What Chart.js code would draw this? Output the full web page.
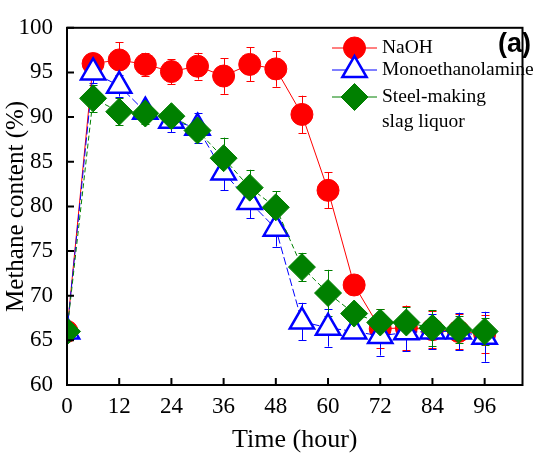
<!DOCTYPE html>
<html><head><meta charset="utf-8">
<script src="https://cdn.jsdelivr.net/npm/chart.js@4/dist/chart.umd.min.js"></script>
<style>html,body{margin:0;padding:0;background:#fff}#wrap{width:539px;height:454px}</style>
</head><body><div id="wrap"><canvas id="c" width="539" height="454"></canvas></div>
<script>
const hours = [0,6,12,18,24,30,36,42,48,54,60,66,72,78,84,90,96];
const xTicks = [0,12,24,36,48,60,72,84,96];
const yTicks = [60,65,70,75,80,85,90,95,100];
const seriesNames = ['NaOH','Monoethanolamine',['Steel-making','slag liquor']];
const naoh    = [66.0,96.0,96.4,95.9,95.1,95.7,94.6,95.9,95.4,90.3,81.8,71.2,66.3,66.4,66.2,66.0,65.7];
const naohErr = [0,0.8,2.0,1.3,1.4,1.5,2.0,1.9,2.0,2.1,2.0,0.5,2.2,2.5,2.1,2.0,2.1];
const mono    = [66.0,95.0,93.5,90.6,89.6,88.8,83.8,80.5,77.5,67.1,66.4,66.0,65.5,65.9,66.0,66.0,65.4];
const monoErr = [0,1.2,1.2,1.0,1.3,1.7,2.0,1.8,2.0,2.1,2.1,0.5,2.2,2.1,2.0,2.1,2.8];
const slag    = [66.0,92.1,90.6,90.4,90.1,88.5,85.4,82.1,79.9,73.2,70.3,68.0,67.0,67.0,66.4,66.2,66.0];
const slagErr = [0,1.5,1.5,1.2,1.0,1.0,2.3,2.0,1.8,1.6,2.6,0.5,1.5,1.7,2.0,1.5,1.5];
const panelLabel = '(a)';
const xTitle = 'Time (hour)';
const yTitle = 'Methane content (%)';

const RED = '#ff0000', BLUE = '#0000ff', GREEN = '#008000';
const SERIF = "'Liberation Serif', 'Times New Roman', serif";

function pts(v){ return hours.map((h,i)=>({x:h,y:v[i]})); }

const errors = [naohErr, monoErr, slagErr];

const errorBarPlugin = {
  id: 'errbars',
  beforeDatasetsDraw(chart){
    const ctx = chart.ctx, ys = chart.scales.y, a = chart.chartArea;
    ctx.save();
    ctx.beginPath(); ctx.rect(a.left,a.top,a.right-a.left,a.bottom-a.top); ctx.clip();
    chart.data.datasets.forEach((ds,di)=>{
      const meta = chart.getDatasetMeta(di);
      const err = errors[di];
      ctx.strokeStyle = ds.borderColor; ctx.lineWidth = 1;
      meta.data.forEach((p,i)=>{
        const e = err[i]; if(!e) return;
        const v = ds.data[i].y;
        const y1 = ys.getPixelForValue(v+e), y2 = ys.getPixelForValue(v-e);
        const x = Math.round(p.x)+0.5;
        ctx.beginPath();
        ctx.moveTo(x,y1); ctx.lineTo(x,y2);
        ctx.moveTo(x-4,Math.round(y1)+0.5); ctx.lineTo(x+4,Math.round(y1)+0.5);
        ctx.moveTo(x-4,Math.round(y2)+0.5); ctx.lineTo(x+4,Math.round(y2)+0.5);
        ctx.stroke();
      });
    });
    ctx.restore();
  }
};

const clipPlugin = {
  id: 'areaclip',
  beforeDatasetsDraw(chart){
    const ctx = chart.ctx, a = chart.chartArea;
    ctx.save();
    ctx.beginPath(); ctx.rect(a.left,a.top,a.right-a.left,a.bottom-a.top); ctx.clip();
  },
  afterDatasetsDraw(chart){ chart.ctx.restore(); }
};

const framePlugin = {
  id: 'frame',
  afterDraw(chart){
    const ctx = chart.ctx, a = chart.chartArea, xs = chart.scales.x, ys = chart.scales.y;
    ctx.save();
    ctx.strokeStyle = '#000'; ctx.lineWidth = 2;
    ctx.strokeRect(a.left, a.top, a.right-a.left, a.bottom-a.top);
    ctx.beginPath();
    xTicks.forEach(t=>{ const x = xs.getPixelForValue(t); ctx.moveTo(x,a.bottom); ctx.lineTo(x,a.bottom-7); });
    yTicks.forEach(t=>{ const y = ys.getPixelForValue(t); ctx.moveTo(a.left,y); ctx.lineTo(a.left+7,y); });
    ctx.stroke();

    // legend
    const rows = [48,70,97];
    const x0 = 332, x1 = 377, xm = 354.5;
    chart.data.datasets.forEach((ds,di)=>{
      const y = rows[di];
      ctx.save();
      ctx.strokeStyle = ds.borderColor; ctx.lineWidth = 1;
      ctx.beginPath(); ctx.moveTo(x0,y); ctx.lineTo(x1,y); ctx.stroke();
      ctx.restore();
      ctx.save();
      ctx.fillStyle = ds.pointBackgroundColor; ctx.strokeStyle = ds.borderColor;
      ctx.lineWidth = ds.pointBorderWidth;
      Chart.helpers.drawPoint(ctx, {pointStyle: ds.pointStyle, radius: ds.pointRadius, rotation: 0, borderWidth: ds.pointBorderWidth}, xm, y);
      ctx.restore();
      ctx.fillStyle = '#000'; ctx.font = '19.5px ' + SERIF; ctx.textBaseline = 'middle'; ctx.textAlign = 'left';
      const name = seriesNames[di];
      if (Array.isArray(name)) name.forEach((s,k)=>ctx.fillText(s, 382, y + k*25));
      else ctx.fillText(name, 382, y);
    });
    ctx.fillStyle = '#000'; ctx.font = "bold 27px 'Liberation Sans', Arial, sans-serif";
    ctx.textAlign = 'right'; ctx.textBaseline = 'middle';
    ctx.fillText(panelLabel, 531, 45);
    ctx.restore();
  }
};

new Chart(document.getElementById('c'), {
  type: 'line',
  data: {
    datasets: [
      {label: 'NaOH', data: pts(naoh), borderColor: RED, backgroundColor: RED, pointBackgroundColor: RED,
       pointBorderColor: RED, pointStyle: 'circle', pointRadius: 11, pointBorderWidth: 1, borderWidth: 1, order: 3, clip: 0},
      {label: 'Monoethanolamine', data: pts(mono), borderColor: BLUE, backgroundColor: '#fff', pointBackgroundColor: '#fff',
       pointBorderColor: BLUE, pointStyle: 'triangle', pointRadius: 14, pointBorderWidth: 2.5, borderWidth: 1, borderDash: [8,3], order: 2, clip: 0},
      {label: 'Steel-making slag liquor', data: pts(slag), borderColor: GREEN, backgroundColor: GREEN, pointBackgroundColor: GREEN,
       pointBorderColor: GREEN, pointStyle: 'rectRot', pointRadius: 13.5, pointBorderWidth: 1, borderWidth: 1, borderDash: [5,3], order: 1, clip: 0}
    ]
  },
  options: {
    responsive: false, animation: false, devicePixelRatio: 1,
    layout: {padding: {top: 16, right: 2, left: 0, bottom: 0}},
    plugins: {legend: {display: false}, tooltip: {enabled: false}},
    elements: {line: {tension: 0}},
    scales: {
      x: {type: 'linear', min: 0, max: 104.7,
        afterBuildTicks: s => { s.ticks = xTicks.map(v=>({value:v})); },
        afterFit: s => { s.height = 69; },
        grid: {display: false, drawTicks: false}, border: {display: false},
        ticks: {color: '#000', font: {family: SERIF, size: 23}, padding: 8, maxRotation: 0},
        title: {display: true, text: xTitle, color: '#000', font: {family: SERIF, size: 26, lineHeight: 1}, padding: {top: 0, bottom: 1}}
      },
      y: {type: 'linear', min: 60, max: 100,
        afterBuildTicks: s => { s.ticks = yTicks.map(v=>({value:v})); },
        afterFit: s => { s.width = 67; },
        grid: {display: false, drawTicks: false}, border: {display: false},
        ticks: {color: '#000', font: {family: SERIF, size: 23}, padding: 14},
        title: {display: true, text: yTitle, color: '#000', font: {family: SERIF, size: 25, lineHeight: 1}, padding: {top: 4, bottom: 0}}
      }
    }
  },
  plugins: [errorBarPlugin, clipPlugin, framePlugin]
});
</script>
</body></html>
